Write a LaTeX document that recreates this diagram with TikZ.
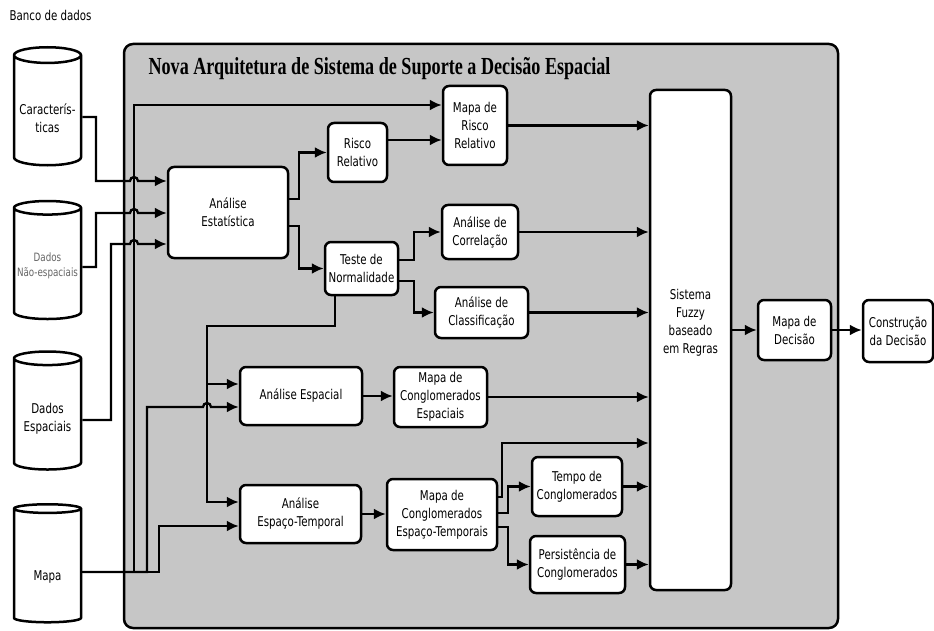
\documentclass[tikz,border=0pt]{standalone}
\usepackage{fontspec}
\setmainfont{DejaVu Sans}[FakeStretch=0.76]
\newfontfamily\titlefont{Liberation Serif}[FakeStretch=0.74]
\usetikzlibrary{shapes.geometric,arrows.meta}
\definecolor{panelgray}{RGB}{198,198,198}

\begin{document}
\begin{tikzpicture}[x=1pt,y=-1pt,font=\fontsize{13.5}{18}\selectfont,
  blk/.style={draw,line width=2.5pt,rounded corners=6pt,fill=white,align=center,inner sep=1pt},
  db/.style={cylinder,shape border rotate=90,aspect=0.25,draw,line width=2.5pt,fill=white,minimum width=67pt,minimum height=118pt,align=center},
  ln/.style={line width=2.3pt},
  arr/.style={line width=2.3pt,-{Latex[length=12pt,width=11pt]}}]
  \useasboundingbox (0,0) rectangle (934,631);
  % painel cinza
  \draw[line width=2.5pt,rounded corners=9pt,fill=panelgray] (124,44) rectangle (838,628);
  \node[anchor=west] (bd) at (6,15) {Banco de dados};
  \node[anchor=base west,font=\titlefont\bfseries\fontsize{24.5}{26}\selectfont] (tit) at (145,75) {Nova Arquitetura de Sistema de Suporte a Decisão Espacial};
  % bancos de dados
  \node[db] (car) at (47.5,112.5) {\phantom{Caracterís-}\\\phantom{ticas}};
  \node[align=center] (cart) at (47.5,118) {Caracterís-\\ticas};
  \node[db] (nesp) at (47.5,265.5) {\phantom{Dados}\\\phantom{Espaciais}};
  \node[align=center,font=\fontsize{11.5}{15}\selectfont,text=black!60] (nespt) at (47.5,265.5) {Dados\\Não-espaciais};
  \node[db] (esp) at (47.5,416) {\phantom{Dados}\\\phantom{Espaciais}};
  \node[align=center] (espt) at (47.5,419) {Dados\\Espaciais};
  \node[db] (mapa) at (47.5,567) {\phantom{Mapa}};
  \node (mapat) at (47.5,577) {Mapa};
  % blocos
  \node[blk,minimum width=120pt,minimum height=91pt] (ae) at (228,212.5) {Análise\\Estatística};
  \node[blk,minimum width=59pt,minimum height=59pt] (rr) at (357.5,152.5) {Risco\\Relativo};
  \node[blk,minimum width=64pt,minimum height=79pt] (mrr) at (475,125.5) {Mapa de\\Risco\\Relativo};
  \node[blk,minimum width=73pt,minimum height=53pt] (tn) at (361.5,268.5) {Teste de\\Normalidade};
  \node[blk,minimum width=76pt,minimum height=54pt] (ac) at (480,232) {Análise de\\Correlação};
  \node[blk,minimum width=93pt,minimum height=51pt] (acl) at (481.5,312.5) {Análise de\\Classificação};
  \node[blk,minimum width=122pt,minimum height=58pt] (aesp) at (301,396) {Análise Espacial};
  \node[blk,minimum width=121pt,minimum height=58pt] (aet) at (300.5,514) {Análise\\Espaço-Temporal};
  \node[blk,minimum width=93pt,minimum height=60pt] (mce) at (440.5,397) {Mapa de\\Conglomerados\\Espaciais};
  \node[blk,minimum width=110pt,minimum height=71pt] (mcet) at (442,514.5) {Mapa de\\Conglomerados\\Espaço-Temporais};
  \node[blk,minimum width=90pt,minimum height=59pt] (tc) at (577,486.5) {Tempo de\\Conglomerados};
  \node[blk,minimum width=95pt,minimum height=57pt] (pc) at (577.5,564.5) {Persistência de\\Conglomerados};
  \node[blk,minimum width=81pt,minimum height=500pt] (fz) at (690.5,340) {};
  \node[align=center] (fzt) at (690.5,323) {Sistema\\Fuzzy\\baseado\\em Regras};
  \node[blk,minimum width=73pt,minimum height=60pt] (md) at (794.5,330) {Mapa de\\Decisão};
  \node[blk,minimum width=70pt,minimum height=62pt] (cd) at (898,331) {Construção\\da Decisão};
  % entradas da analise estatistica
  \draw[arr] ([yshift=-4.5pt]car.east) -| (96,181) -- (130,181) arc[start angle=180,end angle=0,radius=4pt] -- ([yshift=31.5pt]ae.west);
  \draw[arr] ([yshift=-1.5pt]nesp.east) -| (96,213) -- (130,213) arc[start angle=180,end angle=0,radius=4pt] -- ([yshift=-0.5pt]ae.west);
  \draw[arr] ([yshift=-4pt]esp.east) -| (111,244) -- (130,244) arc[start angle=180,end angle=0,radius=4pt] -- ([yshift=-31.5pt]ae.west);
  % mapa
  \draw[arr] ([yshift=-5pt]mapa.east) -| (134,105) -- ([yshift=20.5pt]mrr.west);
  \draw[arr] ([yshift=-5pt]mapa.east) -| (147,407) -- (203,407) arc[start angle=180,end angle=0,radius=4pt] -- ([yshift=-11pt]aesp.west);
  \draw[arr] ([yshift=-5pt]mapa.east) -| (159,526) -- ([yshift=-12pt]aet.west);
  % ramo estatistico
  \draw[arr] ([yshift=13.5pt]ae.east) -- ++(10,0) |- (rr.west);
  \draw[arr] ([yshift=-13.5pt]ae.east) -- ++(10,0) |- (tn.west);
  \draw[arr] ([yshift=12.5pt]rr.east) -- ([yshift=-14.5pt]mrr.west);
  \draw[arr] ([yshift=8.5pt]tn.east) -- ++(15,0) |- (ac.west);
  \draw[arr] ([yshift=-12.5pt]tn.east) -- ++(15,0) |- (acl.west);
  \coordinate (j1) at (207,384);
  \draw[arr] ([xshift=-26.5pt]tn.south) -- ++(0,30) -| (207,502) -- ([yshift=12pt]aet.west);
  \draw[arr] (j1) -- ([yshift=12pt]aesp.west);
  % ramo espacial
  \draw[arr] (aesp.east) -- (aesp.east -| mce.west);
  \draw[arr] (aet.east) -- (aet.east -| mcet.west);
  \draw[arr] ([yshift=17.5pt]mcet.east) -- ++(4,0) |- ([yshift=-103pt]fz.west);
  \draw[arr] ([yshift=1.5pt]mcet.east) -- ++(10,0) |- (tc.west);
  \draw[arr] ([yshift=-12.5pt]mcet.east) -- ++(10,0) |- (pc.west);
  % entradas do sistema fuzzy
  \draw[arr] (mrr.east) -- (mrr.east -| fz.west);
  \draw[arr] (ac.east) -- (ac.east -| fz.west);
  \draw[arr] (acl.east) -- (acl.east -| fz.west);
  \draw[arr] (mce.east) -- (mce.east -| fz.west);
  \draw[arr] (tc.east) -- (tc.east -| fz.west);
  \draw[arr] (pc.east) -- (pc.east -| fz.west);
  % saida
  \draw[arr] (fz.east |- md.west) -- (md.west);
  \draw[arr] (md.east) -- (md.east -| cd.west);
\end{tikzpicture}
\end{document}
